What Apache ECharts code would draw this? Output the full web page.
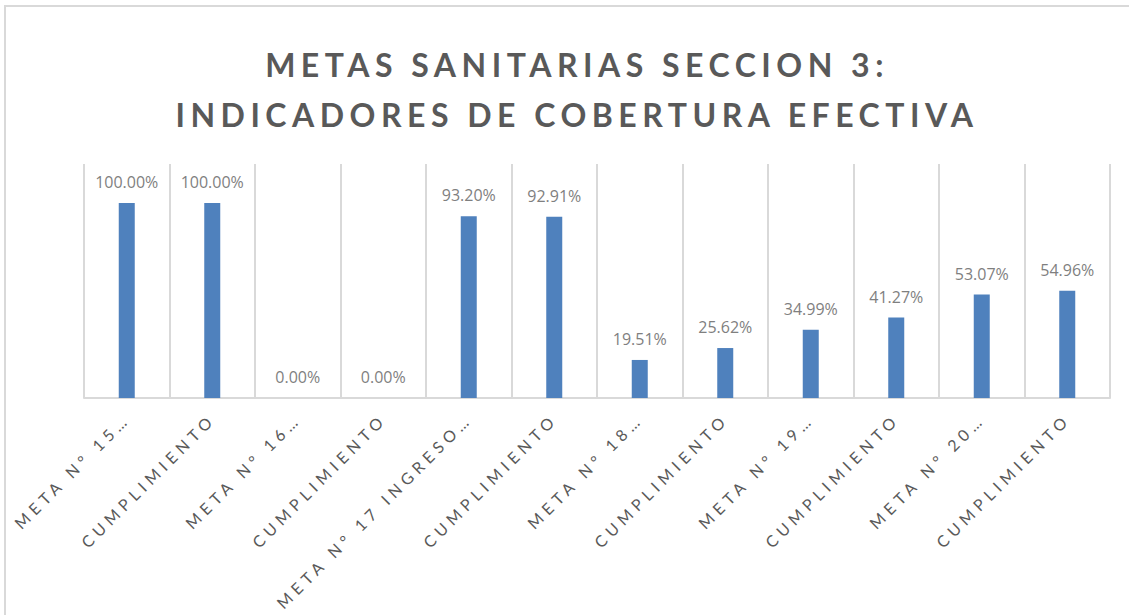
<!DOCTYPE html>
<html>
<head>
    <meta charset="UTF-8">
    <script src="https://cdn.jsdelivr.net/npm/echarts@6/dist/echarts.min.js"></script>
    <style>
        html, body { margin: 0; padding: 0; background: #fff; }
        #chart { width: 1129px; height: 615px; }
    </style>
</head>
<body>
<div id="chart"></div>
<script>
// categorias tal como se ven (truncadas) en el grafico original
var categorias = [
    'META N° 15…', 'CUMPLIMIENTO', 'META N° 16…', 'CUMPLIMIENTO',
    'META N° 17 INGRESO…', 'CUMPLIMIENTO', 'META N° 18…', 'CUMPLIMIENTO',
    'META N° 19…', 'CUMPLIMIENTO', 'META N° 20…', 'CUMPLIMIENTO'
];
// porcentajes (fraccion de 1)
var valores = [1.0, 1.0, 0.0, 0.0, 0.932, 0.9291, 0.1951, 0.2562, 0.3499, 0.4127, 0.5307, 0.5496];
var titulo = 'METAS SANITARIAS SECCION 3:\nINDICADORES DE COBERTURA EFECTIVA';

var chart = echarts.init(document.getElementById('chart'), null, { renderer: 'svg' });
var option = {
    animation: false,
    backgroundColor: '#ffffff',
    title: {
        text: titulo,
        left: 572,
        top: 34,
        textAlign: 'center',
        textStyle: {
            fontFamily: 'Lato',
            fontWeight: 'bold',
            fontSize: 32,
            lineHeight: 50,
            color: '#595959'
        }
    },
    // marco del grafico
    graphic: [{
        type: 'rect',
        shape: { x: 5, y: 6, width: 1200, height: 700 },
        style: { fill: null, stroke: '#d9d9d9', lineWidth: 2 },
        silent: true
    }],
    grid: { left: 84, right: 19, top: 164, bottom: 217 },
    xAxis: {
        type: 'category',
        data: categorias,
        axisLine: { lineStyle: { color: '#d9d9d9', width: 2 } },
        axisTick: { show: false },
        splitLine: { show: true, lineStyle: { color: '#d9d9d9', width: 2 } },
        axisLabel: {
            interval: 0,
            rotate: 45,
            margin: 18,
            fontFamily: 'Lato',
            fontSize: 16,
            color: '#595959'
        }
    },
    yAxis: {
        type: 'value',
        min: 0,
        max: 1.2,
        show: false
    },
    series: [{
        type: 'bar',
        data: valores,
        barWidth: 16,
        itemStyle: { color: '#4f81bd' },
        label: {
            show: true,
            position: 'top',
            distance: 13,
            fontFamily: 'Open Sans',
            fontSize: 16,
            color: '#7f7f7f',
            formatter: function (p) { return (p.value * 100).toFixed(2) + '%'; }
        }
    }]
};
chart.setOption(option);

// espaciado entre letras como en Excel (titulo y etiquetas del eje)
function espaciar() {
    var textos = document.querySelectorAll('#chart text');
    textos.forEach(function (t) {
        var s = t.textContent;
        if (s.indexOf('%') >= 0) return;
        if (categorias.indexOf(s) >= 0) t.style.letterSpacing = '5px';
        else t.style.letterSpacing = '5.5px';
    });
}
chart.on('finished', espaciar);
espaciar();
setTimeout(espaciar, 0);
</script>
</body>
</html>
